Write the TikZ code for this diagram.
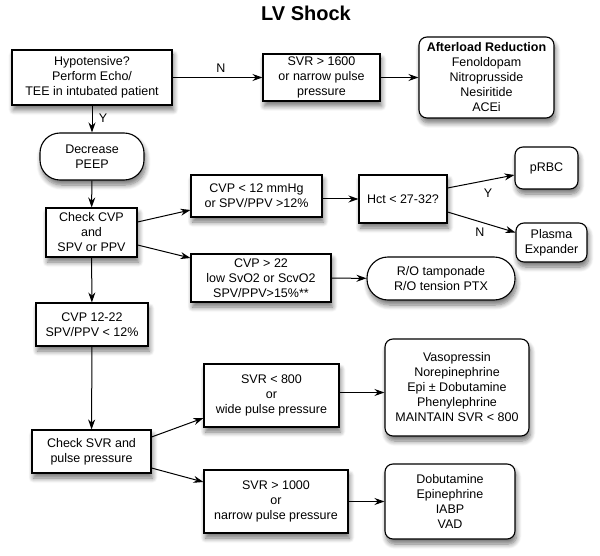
\documentclass[tikz,border=0pt]{standalone}
\usepackage{fontspec}
\setmainfont{Liberation Sans}
\usetikzlibrary{arrows.meta,shadows.blur,calc}
\begin{document}
\begin{tikzpicture}[x=1pt,y=-1pt,
  base/.style={draw, line width=1.1pt, fill=white, align=center, inner sep=0pt,
    font=\fontsize{12.5}{15}\selectfont,
    blur shadow={shadow xshift=1.5pt, shadow yshift=-5pt, shadow blur radius=5pt, shadow blur steps=8, shadow opacity=55}},
  sq/.style={base},
  rnd/.style={base, rounded corners=8pt},
  arr/.style={-{Stealth[length=10pt,width=7pt]}, line width=1pt},
  lbl/.style={font=\fontsize{12.5}{15}\selectfont}]
\useasboundingbox (0,0) rectangle (600,556);
\node[font=\bfseries\fontsize{20}{24}\selectfont] (title) at (306,13) {LV Shock};
\node[sq, minimum width=160pt, minimum height=55pt] (A) at (92,77.5) {Hypotensive?\\Perform Echo/\\TEE in intubated patient};
\node[sq, minimum width=117pt, minimum height=47pt] (B) at (321.5,77.5) {SVR > 1600\\or narrow pulse\\pressure};
\node[rnd, minimum width=135pt, minimum height=81pt] (C) at (486.5,77.5) {\textbf{Afterload Reduction}\\Fenoldopam\\Nitroprusside\\Nesiritide\\ACEi};
\node[base, rounded corners=20pt, minimum width=104pt, minimum height=47pt] (P) at (92,156.5) {Decrease\\PEEP};
\node[sq, minimum width=91pt, minimum height=49pt] (K) at (91.5,232.5) {Check CVP\\and\\SPV or PPV};
\node[sq, minimum width=131pt, minimum height=42pt] (L) at (256.5,196) {CVP < 12 mmHg\\or SPV/PPV >12\%};
\node[sq, minimum width=88pt, minimum height=48pt] (H) at (403,199) {Hct < 27-32?};
\node[rnd, minimum width=63pt, minimum height=42pt] (R) at (546.5,168) {pRBC};
\node[rnd, minimum width=71pt, minimum height=39pt] (E) at (551.5,242.5) {Plasma\\Expander};
\node[sq, minimum width=140pt, minimum height=48pt] (G) at (261,278) {CVP > 22\\low SvO2 or ScvO2\\SPV/PPV>15\%**};
\node[base, rounded corners=21pt, minimum width=148pt, minimum height=43pt] (T) at (441,278.5) {R/O tamponade\\R/O tension PTX};
\node[sq, minimum width=112pt, minimum height=43pt] (M) at (92,324.5) {CVP 12-22\\SPV/PPV < 12\%};
\node[sq, minimum width=119pt, minimum height=43pt] (S) at (91.5,451.5) {Check SVR and\\pulse pressure};
\node[sq, minimum width=135pt, minimum height=63pt] (W) at (271.5,395.5) {SVR < 800\\or\\wide pulse pressure};
\node[sq, minimum width=144pt, minimum height=63pt] (N) at (276,501.5) {SVR > 1000\\or\\narrow pulse pressure};
\node[rnd, minimum width=144pt, minimum height=97pt] (V) at (457,387.5) {Vasopressin\\Norepinephrine\\Epi ± Dobutamine\\Phenylephrine\\MAINTAIN SVR < 800};
\node[rnd, minimum width=130pt, minimum height=75pt] (D) at (450,501.5) {Dobutamine\\Epinephrine\\IABP\\VAD};
\draw[arr] (A) -- (B);
\node[lbl] (nA) at (221,68) {N};
\draw[arr] (B) -- (C);
\draw[arr] (A) -- (P);
\node[lbl] (yA) at (103,118) {Y};
\draw[arr] (P) -- (K);
\draw[arr] ($(K.east)+(0,-10.5)$) -- ($(L.west)+(0,14)$);
\draw[arr] ($(K.east)+(0,12.5)$) -- ($(G.west)+(0,-20)$);
\draw[arr] (L.east |- H.west) -- (H.west);
\draw[arr] ($(H.east)+(0,-11)$) -- ($(R.west)+(0,7)$);
\node[lbl] (yH) at (488,193) {Y};
\draw[arr] ($(H.east)+(0,13)$) -- ($(E.west)+(0,-10)$);
\node[lbl] (nH) at (480,232) {N};
\draw[arr] (G) -- (T);
\draw[arr] (K) -- (M);
\draw[arr] (M) -- (S);
\draw[arr] ($(S.east)+(0,-14.5)$) -- ($(W.west)+(0,22.5)$);
\draw[arr] ($(S.east)+(0,16.5)$) -- ($(N.west)+(0,-19.5)$);
\draw[arr] ($(W.east)+(0,-3)$) -- ($(V.west)+(0,5)$);
\draw[arr] (N) -- (D);
\end{tikzpicture}
\end{document}
